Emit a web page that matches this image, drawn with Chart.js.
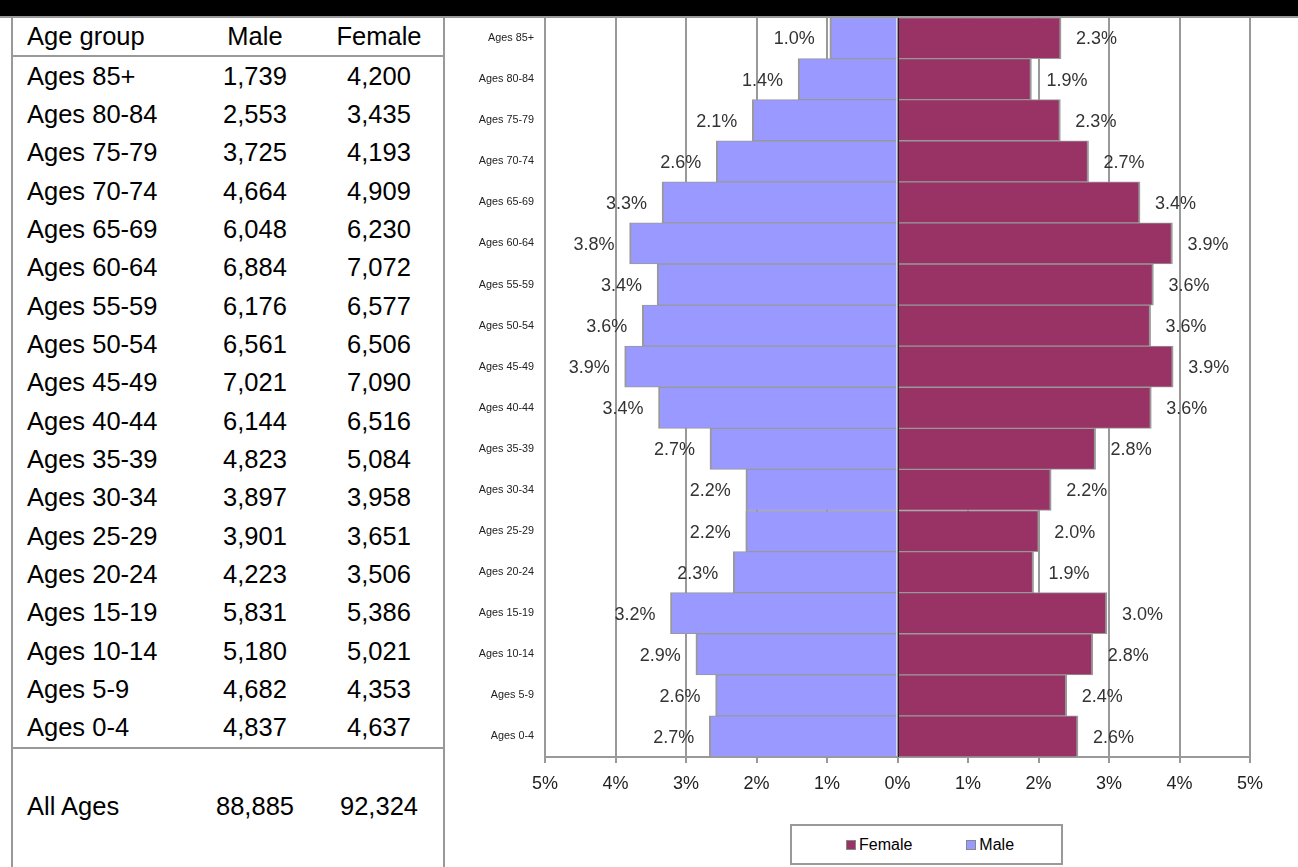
<!DOCTYPE html>
<html>
<head>
<meta charset="utf-8">
<title>Population by age group</title>
<script src="https://cdn.jsdelivr.net/npm/chart.js@4.4.1/dist/chart.umd.min.js"></script>
<style>
  html, body { margin: 0; padding: 0; background: #fff; }
  body { position: relative; width: 1298px; height: 867px; overflow: hidden; font-family: 'Liberation Sans', Arial, sans-serif; }
  #topbar { position: absolute; z-index: 2; left: 0; top: 0; width: 1298px; height: 16px; background: #000; border-bottom: 2px solid #999; }
  #agetable { position: absolute; left: 11px; top: 18px; width: 430px; height: 849px; border-left: 2px solid #999; border-right: 2px solid #999; font-size: 25.5px; color: #000; }
  .row { display: flex; align-items: center; height: 38.33px; }
  .row.head { height: 37px; border-bottom: 2px solid #999; }
  .row.last { border-bottom: 2px solid #999; }
  .row.total { height: 116px; }
  .c1 { width: 168px; padding-left: 14px; white-space: nowrap; }
  .c2 { width: 120px; text-align: center; }
  .c3 { width: 128px; text-align: center; }
  #chartbox { position: absolute; z-index: 1; left: 444px; top: 0; width: 854px; height: 800px; }
  #legend { position: absolute; left: 790px; top: 824px; width: 215px; height: 37px; padding-left: 54px; border: 2px solid #999; display: flex; align-items: center; font-size: 16px; color: #000; }
  .item { display: flex; align-items: center; margin-right: 54px; }
  .mark { width: 8px; height: 8px; border: 1px solid #888; margin-right: 3px; }
</style>
</head>
<body>
<div id="topbar"></div>
<div id="agetable"></div>
<div id="chartbox"><canvas id="pyramid"></canvas></div>
<div id="legend"></div>
<script>
const ageGroups = ['Ages 85+', 'Ages 80-84', 'Ages 75-79', 'Ages 70-74', 'Ages 65-69', 'Ages 60-64',
  'Ages 55-59', 'Ages 50-54', 'Ages 45-49', 'Ages 40-44', 'Ages 35-39', 'Ages 30-34',
  'Ages 25-29', 'Ages 20-24', 'Ages 15-19', 'Ages 10-14', 'Ages 5-9', 'Ages 0-4'];
const maleCounts = [1739, 2553, 3725, 4664, 6048, 6884, 6176, 6561, 7021, 6144, 4823, 3897, 3901, 4223, 5831, 5180, 4682, 4837];
const femaleCounts = [4200, 3435, 4193, 4909, 6230, 7072, 6577, 6506, 7090, 6516, 5084, 3958, 3651, 3506, 5386, 5021, 4353, 4637];
const allAges = [88885, 92324];
// percent of the whole population, as the bars show them
const malePct = [0.96, 1.41, 2.06, 2.57, 3.34, 3.80, 3.41, 3.62, 3.87, 3.39, 2.66, 2.151, 2.153, 2.33, 3.22, 2.86, 2.58, 2.67];
const femalePct = [2.32, 1.90, 2.31, 2.71, 3.44, 3.90, 3.63, 3.59, 3.91, 3.60, 2.81, 2.18, 2.01, 1.93, 2.97, 2.77, 2.40, 2.56];
const xMin = -5, xMax = 5, xStep = 1;

const FONT = '"Liberation Sans", Arial, sans-serif';

// left table
const tbl = document.getElementById('agetable');
const fmt = n => n.toLocaleString('en-US');
function addRow(cls, a, b, c) {
  const row = document.createElement('div');
  row.className = 'row ' + cls;
  [a, b, c].forEach((t, i) => {
    const cell = document.createElement('div');
    cell.className = 'c' + (i + 1);
    cell.textContent = t;
    row.appendChild(cell);
  });
  tbl.appendChild(row);
}
addRow('head', 'Age group', 'Male', 'Female');
ageGroups.forEach((g, i) => {
  addRow(i === ageGroups.length - 1 ? 'last' : '', g, fmt(maleCounts[i]), fmt(femaleCounts[i]));
});
addRow('total', 'All Ages', fmt(allAges[0]), fmt(allAges[1]));

const pctText = v => (Math.round(Math.abs(v) * 10) / 10).toFixed(1) + '%';

// value labels beside the bar ends + dark 0% line
const barLabels = {
  id: 'barLabels',
  afterDatasetsDraw(chart) {
    const ctx = chart.ctx;
    const area = chart.chartArea;
    ctx.save();
    const x0 = Math.round(chart.scales.x.getPixelForValue(0));
    ctx.strokeStyle = '#222';
    ctx.lineWidth = 1;
    ctx.beginPath();
    ctx.moveTo(x0 + 0.5, area.top);
    ctx.lineTo(x0 + 0.5, area.bottom);
    ctx.stroke();

    ctx.font = '18px ' + FONT;
    ctx.fillStyle = '#333';
    ctx.textBaseline = 'middle';
    chart.data.datasets.forEach((ds, di) => {
      chart.getDatasetMeta(di).data.forEach((bar, i) => {
        const v = ds.data[i];
        const neg = v < 0;
        ctx.textAlign = neg ? 'right' : 'left';
        ctx.fillText(pctText(v), bar.x + (neg ? -15 : 15), bar.y + 1.5);
      });
    });
    ctx.restore();
  }
};

const chart = new Chart(document.getElementById('pyramid'), {
  type: 'bar',
  data: {
    labels: ageGroups,
    datasets: [
      {
        label: 'Female',
        data: femalePct,
        backgroundColor: '#993366',
        borderColor: '#999999',
        borderWidth: { top: 1, bottom: 1, left: 0, right: 2 },
        borderSkipped: false,
      },
      {
        label: 'Male',
        data: malePct.map(v => -v),
        backgroundColor: '#9999ff',
        borderColor: '#999999',
        borderWidth: { top: 1, bottom: 1, left: 2, right: 0 },
        borderSkipped: false,
      },
    ],
  },
  options: {
    indexAxis: 'y',
    responsive: true,
    maintainAspectRatio: false,
    animation: false,
    layout: { padding: { left: 0, right: 48, top: 0, bottom: 0 } },
    datasets: { bar: { barPercentage: 1, categoryPercentage: 1 } },
    plugins: {
      legend: { display: false },
      tooltip: { enabled: false },
    },
    scales: {
      x: {
        stacked: true,
        min: xMin,
        max: xMax,
        ticks: {
          stepSize: xStep,
          callback: v => Math.abs(v) + '%',
          color: '#222',
          font: { size: 18, family: FONT },
          padding: 10,
          maxRotation: 0,
          autoSkip: false,
        },
        grid: { color: '#999', lineWidth: 2, tickLength: 6 },
        border: { color: '#999', width: 2 },
        afterFit: s => { s.height = 43; },
      },
      y: {
        stacked: true,
        ticks: {
          color: '#222',
          font: { size: 10.8, family: FONT },
          padding: 11,
          autoSkip: false,
        },
        grid: { display: false, drawTicks: false },
        border: { display: false },
        afterFit: s => { s.width = 101; },
      },
    },
  },
  plugins: [barLabels],
});

// legend box under the plot
const legend = document.getElementById('legend');
chart.data.datasets.forEach(ds => {
  const item = document.createElement('div');
  item.className = 'item';
  const mark = document.createElement('span');
  mark.className = 'mark';
  mark.style.background = ds.backgroundColor;
  const txt = document.createElement('span');
  txt.textContent = ds.label;
  item.appendChild(mark);
  item.appendChild(txt);
  legend.appendChild(item);
});
</script>
</body>
</html>
